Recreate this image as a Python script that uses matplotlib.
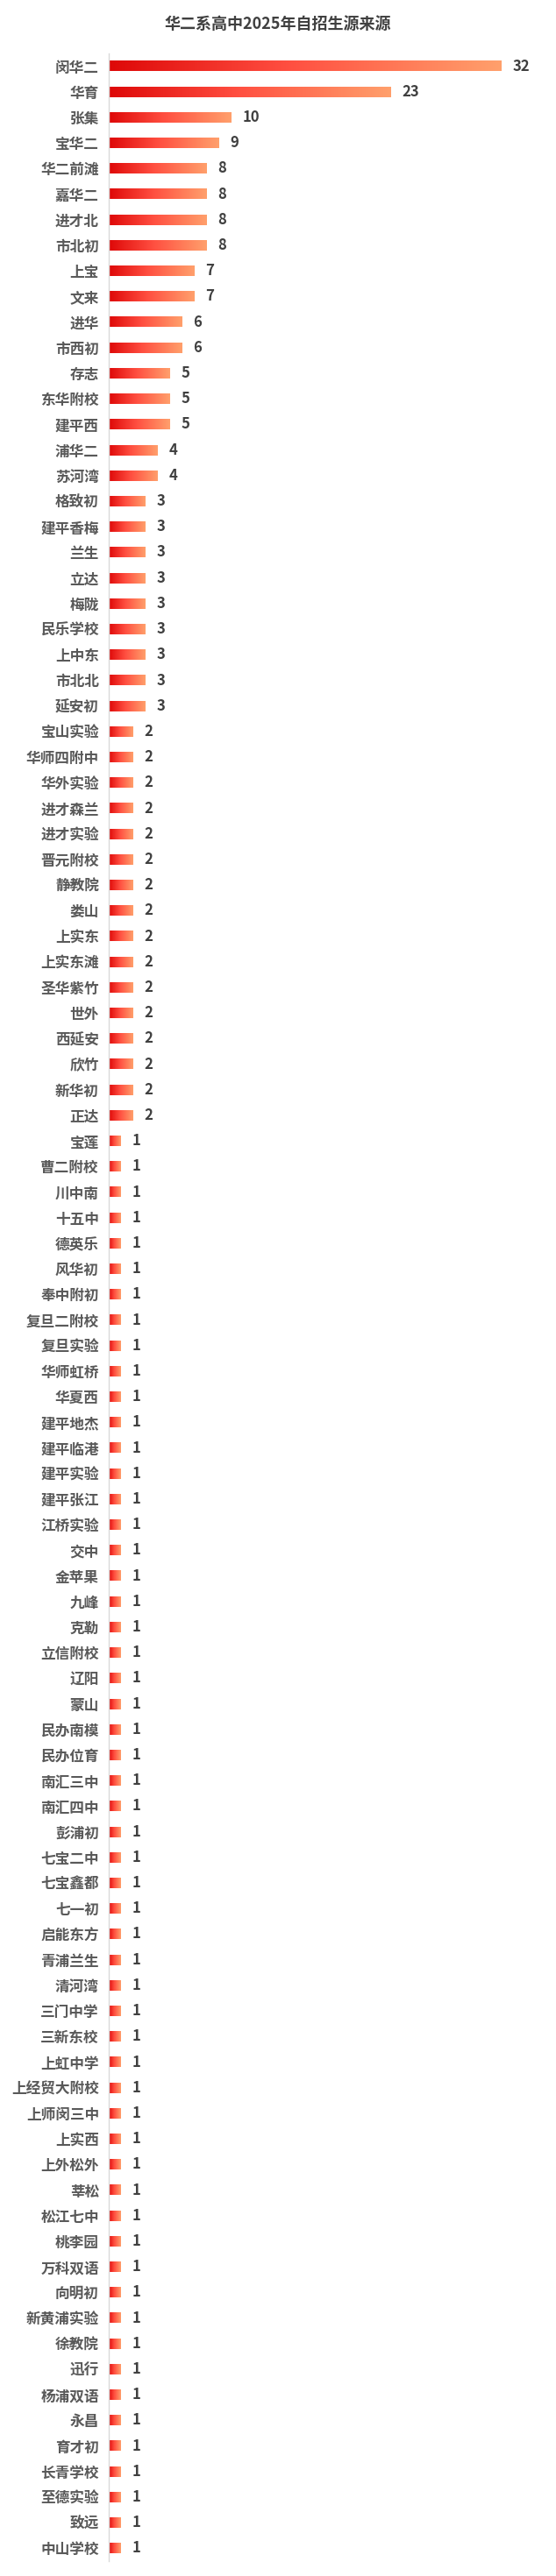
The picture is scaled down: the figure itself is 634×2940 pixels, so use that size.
import numpy as np
import matplotlib
matplotlib.use('Agg')
import matplotlib.pyplot as plt
from matplotlib.colors import LinearSegmentedColormap

plt.rcParams['font.family'] = ['Noto Sans CJK SC', 'DejaVu Sans']

schools = ['闵华二', '华育', '张集', '宝华二', '华二前滩', '嘉华二', '进才北', '市北初',
           '上宝', '文来', '进华', '市西初', '存志', '东华附校', '建平西', '浦华二', '苏河湾',
           '格致初', '建平香梅', '兰生', '立达', '梅陇', '民乐学校', '上中东', '市北北', '延安初',
           '宝山实验', '华师四附中', '华外实验', '进才森兰', '进才实验', '晋元附校', '静教院',
           '娄山', '上实东', '上实东滩', '圣华紫竹', '世外', '西延安', '欣竹', '新华初', '正达',
           '宝莲', '曹二附校', '川中南', '十五中', '德英乐', '风华初', '奉中附初', '复旦二附校',
           '复旦实验', '华师虹桥', '华夏西', '建平地杰', '建平临港', '建平实验', '建平张江',
           '江桥实验', '交中', '金苹果', '九峰', '克勒', '立信附校', '辽阳', '蒙山', '民办南模',
           '民办位育', '南汇三中', '南汇四中', '彭浦初', '七宝二中', '七宝鑫都', '七一初',
           '启能东方', '青浦兰生', '清河湾', '三门中学', '三新东校', '上虹中学', '上经贸大附校',
           '上师闵三中', '上实西', '上外松外', '莘松', '松江七中', '桃李园', '万科双语', '向明初',
           '新黄浦实验', '徐教院', '迅行', '杨浦双语', '永昌', '育才初', '长青学校', '至德实验',
           '致远', '中山学校']
counts = [32, 23, 10, 9, 8, 8, 8, 8, 7, 7, 6, 6, 5, 5, 5, 4, 4,
          3, 3, 3, 3, 3, 3, 3, 3, 3,
          2, 2, 2, 2, 2, 2, 2, 2, 2, 2, 2, 2, 2, 2, 2, 2] + [1] * 56

cmap = LinearSegmentedColormap.from_list(
    'redorange', [(0, '#DE0808'), (0.45, '#FF4E40'), (1, '#FFA06C')])
grad = np.linspace(0, 1, 256).reshape(1, -1)

fig = plt.figure(figsize=(6.34, 29.4), dpi=100)
ax = fig.add_axes([124 / 634, 1 - 2923 / 2940, 1 - 124 / 634, (2923 - 61) / 2940])

bh = 0.4
for i, (name, v) in enumerate(zip(schools, counts)):
    ax.imshow(grad, extent=(0, v, i + bh / 2, i - bh / 2), cmap=cmap,
              aspect='auto', interpolation='bicubic', zorder=2)
    ax.annotate(str(v), xy=(v, i), xytext=(9, 0), textcoords='offset points',
                va='center', ha='left', fontsize=12, fontweight='bold', color='#404040')

ax.set_xlim(0, 510 / 14)
ax.set_ylim(len(schools) - 0.5, -0.5)
ax.set_yticks(range(len(schools)))
ax.set_yticklabels(schools, fontsize=12, fontweight='bold', color='#595959')
ax.tick_params(axis='y', length=0, pad=8)
ax.set_xticks([])
for s in ['top', 'right', 'bottom']:
    ax.spines[s].set_visible(False)
ax.spines['left'].set_color('#D9D9D9')
ax.spines['left'].set_linewidth(1)

fig.text(0.5, 1 - 27 / 2940, '华二系高中2025年自招生源来源', ha='center', va='center',
         fontsize=13, fontweight='bold', color='#404040')

fig.savefig('out.png', dpi=100)
